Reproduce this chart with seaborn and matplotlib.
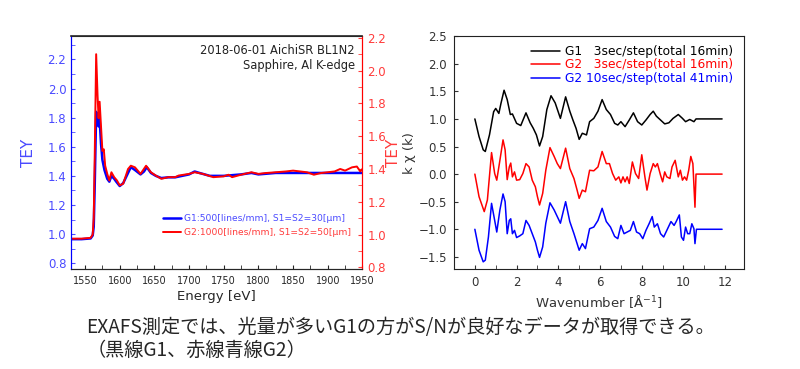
import numpy as np
import pandas as pd
import matplotlib
matplotlib.use('Agg')
import matplotlib.pyplot as plt
import seaborn as sns
from matplotlib.ticker import MultipleLocator

# XANES (left panel) - G1 on left axis, G2 on right axis
e_g1 = [1530, 1545, 1558, 1561, 1562.5, 1564, 1566, 1568, 1569.5, 1571, 1573, 1575, 1578,
        1582, 1585, 1588, 1592, 1595, 1600, 1605, 1612, 1616, 1622, 1630, 1635, 1639,
        1645, 1652, 1660, 1670, 1680, 1690, 1700, 1708, 1715, 1730, 1750, 1775, 1790,
        1800, 1825, 1850, 1875, 1900, 1950]
tey_g1 = [0.965, 0.965, 0.97, 0.99, 1.05, 1.35, 1.84, 1.80, 1.74, 1.79, 1.62, 1.51, 1.44,
          1.38, 1.36, 1.40, 1.38, 1.36, 1.33, 1.35, 1.42, 1.46, 1.44, 1.41, 1.43, 1.46,
          1.42, 1.40, 1.385, 1.39, 1.39, 1.40, 1.41, 1.43, 1.42, 1.40, 1.40, 1.41, 1.42,
          1.41, 1.42, 1.42, 1.42, 1.42, 1.42]

e_g2 = [1530, 1545, 1558, 1561, 1562.5, 1564, 1566, 1568, 1569.5, 1571, 1573, 1575, 1577,
        1579, 1582, 1585, 1588, 1592, 1596, 1600, 1605, 1612, 1616, 1622, 1630, 1638,
        1645, 1652, 1660, 1670, 1680, 1685, 1700, 1708, 1720, 1735, 1750, 1757, 1762,
        1775, 1790, 1800, 1810, 1825, 1840, 1850, 1860, 1870, 1880, 1890, 1900, 1910,
        1918, 1925, 1935, 1942, 1947, 1950]
tey_g2 = [0.975, 0.975, 0.98, 1.00, 1.10, 1.50, 2.10, 1.85, 1.71, 1.81, 1.66, 1.51, 1.52,
          1.42, 1.37, 1.33, 1.38, 1.35, 1.33, 1.30, 1.31, 1.40, 1.42, 1.41, 1.37, 1.42,
          1.38, 1.36, 1.34, 1.35, 1.35, 1.36, 1.37, 1.38, 1.37, 1.35, 1.355, 1.365, 1.35,
          1.365, 1.38, 1.37, 1.375, 1.38, 1.385, 1.39, 1.385, 1.38, 1.365, 1.375, 1.38, 1.385,
          1.40, 1.39, 1.41, 1.415, 1.385, 1.40]

# EXAFS k*chi(k) (right panel), offset curves
k_g1 = [0, 0.2, 0.4, 0.5, 0.7, 0.9, 1.0, 1.15, 1.25, 1.4, 1.55, 1.7, 1.8, 2.0, 2.2, 2.45,
        2.65, 2.8, 2.95, 3.1, 3.25, 3.45, 3.65, 3.85, 4.1, 4.35, 4.55, 4.7, 4.85, 5.0,
        5.15, 5.35, 5.5, 5.7, 5.9, 6.1, 6.3, 6.5, 6.7, 6.85, 7.0, 7.2, 7.4, 7.6, 7.8,
        8.0, 8.2, 8.4, 8.55, 8.7, 8.9, 9.1, 9.3, 9.5, 9.75, 9.95, 10.1, 10.3, 10.5, 10.6, 11.85]
chi_g1 = [1.0, 0.68, 0.44, 0.41, 0.71, 1.13, 1.19, 1.10, 1.28, 1.52, 1.35, 1.08, 1.09, 0.92,
          0.88, 1.11, 0.93, 0.83, 0.71, 0.51, 0.68, 1.17, 1.42, 1.29, 1.01, 1.40, 1.14, 0.98,
          0.83, 0.63, 0.74, 0.71, 0.95, 1.01, 1.14, 1.35, 1.17, 1.08, 0.92, 0.89, 0.95, 0.86,
          0.98, 1.11, 0.95, 0.89, 0.98, 1.08, 1.14, 1.05, 0.98, 0.91, 0.93, 1.01, 1.08, 1.01,
          0.95, 0.99, 0.95, 1.0, 1.0]

k_g2 = [0, 0.2, 0.45, 0.6, 0.8, 0.95, 1.05, 1.2, 1.35, 1.45, 1.55, 1.65, 1.72, 1.8, 1.9,
        2.0, 2.15, 2.3, 2.45, 2.6, 2.75, 2.9, 3.0, 3.1, 3.25, 3.4, 3.6, 3.8, 3.95, 4.1,
        4.35, 4.55, 4.75, 4.9, 5.0, 5.15, 5.3, 5.5, 5.7, 5.9, 6.1, 6.3, 6.45, 6.6, 6.75,
        6.9, 7.0, 7.1, 7.2, 7.3, 7.4, 7.55, 7.7, 7.85, 8.0, 8.15, 8.25, 8.4, 8.55, 8.65,
        8.75, 8.9, 9.0, 9.1, 9.2, 9.35, 9.45, 9.6, 9.75, 9.85, 9.95, 10.05, 10.15, 10.25,
        10.35, 10.45, 10.55, 10.6, 11.85]
chi_g2 = [0.0, -0.41, -0.68, -0.47, 0.39, 0.01, -0.11, 0.25, 0.62, 0.44, -0.10, 0.13, 0.20,
          -0.05, 0.04, -0.11, -0.10, 0.01, 0.19, 0.13, -0.11, -0.23, -0.41, -0.56, -0.35,
          0.07, 0.48, 0.32, 0.19, 0.10, 0.47, 0.10, -0.08, -0.29, -0.44, -0.29, -0.32, 0.07,
          0.06, 0.13, 0.41, 0.19, 0.19, 0.01, -0.11, -0.05, -0.16, -0.05, -0.14, -0.05,
          -0.17, 0.22, 0.01, -0.08, 0.35, -0.05, -0.29, 0.01, 0.19, 0.13, 0.19, -0.02, -0.14,
          0.04, -0.05, -0.08, 0.13, 0.25, -0.05, 0.07, -0.11, -0.05, -0.11, 0.07, 0.32, 0.19,
          -0.60, 0.0, 0.0]

k_g2b = [0, 0.2, 0.4, 0.5, 0.65, 0.8, 0.95, 1.05, 1.2, 1.35, 1.45, 1.55, 1.65, 1.72, 1.8,
         1.9, 2.0, 2.15, 2.3, 2.45, 2.6, 2.75, 2.9, 3.0, 3.1, 3.25, 3.4, 3.6, 3.8, 3.95,
         4.1, 4.35, 4.55, 4.75, 4.9, 5.0, 5.15, 5.3, 5.5, 5.7, 5.9, 6.1, 6.3, 6.5, 6.7,
         6.85, 7.0, 7.15, 7.3, 7.45, 7.6, 7.75, 7.9, 8.05, 8.2, 8.35, 8.5, 8.6, 8.75, 8.9,
         9.05, 9.2, 9.4, 9.55, 9.65, 9.8, 9.9, 10.0, 10.1, 10.2, 10.3, 10.4, 10.5, 10.55,
         10.62, 11.85]
chi_g2b = [-1.0, -1.38, -1.59, -1.56, -1.14, -0.53, -0.84, -1.05, -0.65, -0.36, -0.50, -1.08,
           -0.84, -0.81, -1.08, -1.02, -1.15, -1.12, -1.08, -0.84, -0.93, -1.08, -1.23, -1.38,
           -1.51, -1.32, -0.89, -0.52, -0.65, -0.77, -0.89, -0.50, -0.86, -1.08, -1.26, -1.38,
           -1.26, -1.35, -0.99, -0.96, -0.84, -0.62, -0.86, -0.96, -1.13, -1.17, -0.93, -1.08,
           -1.05, -1.02, -0.86, -1.05, -1.08, -1.17, -1.02, -0.90, -0.77, -0.96, -0.90, -1.08,
           -1.14, -1.02, -0.86, -0.93, -0.86, -0.74, -1.14, -1.20, -0.96, -1.08, -1.08, -0.90,
           -0.99, -1.26, -1.0, -1.0]

legend_xanes = ['G1:500[lines/mm], S1=S2=30[μm]', 'G2:1000[lines/mm], S1=S2=50[μm]']
legend_exafs = ['G1   3sec/step(total 16min)', 'G2   3sec/step(total 16min)',
                'G2 10sec/step(total 41min)']
caption = 'EXAFS測定では、光量が多いG1の方がS/Nが良好なデータが取得できる。\n（黒線G1、赤線青線G2）'

sns.set_style('ticks')
plt.rcParams['font.family'] = ['DejaVu Sans', 'Noto Sans CJK JP']
plt.rcParams['xtick.direction'] = 'in'
plt.rcParams['ytick.direction'] = 'in'

BLUE = '#0000ff'
RED = '#ff0000'
LBLUE = '#4a4aff'
LRED = '#ff3b3b'

fig = plt.figure(figsize=(8, 3.69), dpi=100)

# ---- left panel: XANES
ax1 = fig.add_axes([0.089, 0.271, 0.364, 0.631])
ax2 = ax1.twinx()
sns.lineplot(x=e_g1, y=tey_g1, ax=ax1, color=BLUE, lw=1.8, sort=False, estimator=None,
             label=legend_xanes[0], legend=False)
sns.lineplot(x=e_g2, y=tey_g2, ax=ax2, color=RED, lw=1.4, sort=False, estimator=None,
             label=legend_xanes[1], legend=False)
ax1.set_xlim(1530, 1950)
ax1.set_ylim(0.76, 2.36)
ax2.set_ylim(0.79, 2.21)
ax1.xaxis.set_major_locator(MultipleLocator(50))
ax1.xaxis.set_minor_locator(MultipleLocator(25))
for a in (ax1, ax2):
    a.yaxis.set_major_locator(MultipleLocator(0.2))
    a.yaxis.set_minor_locator(MultipleLocator(0.1))
ax1.tick_params(axis='x', which='both', labelsize=7, length=3, top=False, pad=5)
ax1.tick_params(axis='y', which='both', colors=LBLUE, labelsize=8.5, length=3)
ax2.tick_params(axis='y', which='both', colors=LRED, labelsize=8.5, length=3)
ax1.set_xlabel('Energy [eV]', fontsize=9.5, labelpad=3)
ax1.set_ylabel('TEY', color=LBLUE, fontsize=11, labelpad=8)
ax2.set_ylabel('TEY', color=LRED, fontsize=11, labelpad=0)
ax2.spines['left'].set_color(BLUE)
ax2.spines['right'].set_color(RED)
ax1.spines['left'].set_color(BLUE)
ax1.spines['right'].set_color(RED)
ax2.spines['top'].set_linewidth(1.2)
ax1.text(0.975, 0.965, '2018-06-01 AichiSR BL1N2\nSapphire, Al K-edge', transform=ax1.transAxes,
         ha='right', va='top', fontsize=8.3, color='#222222', linespacing=1.15)
h1 = ax1.get_lines()[0]
h2 = ax2.get_lines()[0]
leg = ax2.legend([h1, h2], legend_xanes, loc='lower right', bbox_to_anchor=(0.99, 0.1),
                 frameon=False, fontsize=6.6, handlelength=2.0, handletextpad=0.3,
                 labelspacing=0.6)
for txt, c in zip(leg.get_texts(), (LBLUE, LRED)):
    txt.set_color(c)

# ---- right panel: EXAFS
ax3 = fig.add_axes([0.5675, 0.271, 0.3625, 0.631])
df = pd.concat([
    pd.DataFrame({'k': k_g1, 'chi': chi_g1, 'set': legend_exafs[0]}),
    pd.DataFrame({'k': k_g2, 'chi': chi_g2, 'set': legend_exafs[1]}),
    pd.DataFrame({'k': k_g2b, 'chi': chi_g2b, 'set': legend_exafs[2]}),
])
sns.lineplot(data=df, x='k', y='chi', hue='set', ax=ax3, sort=False, estimator=None,
             palette=['black', RED, BLUE], lw=1.1)
ax3.set_xlim(-1, 12.9)
ax3.set_ylim(-1.72, 2.5)
ax3.xaxis.set_major_locator(MultipleLocator(2))
ax3.xaxis.set_minor_locator(MultipleLocator(1))
ax3.yaxis.set_major_locator(MultipleLocator(0.5))
ax3.yaxis.set_minor_locator(MultipleLocator(0.25))
ax3.tick_params(which='both', labelsize=8.5, length=3, colors='#333333', pad=5)
ax3.tick_params(axis='y', which='minor', length=0)
ax3.set_xlabel('Wavenumber [Å$^{-1}$]', fontsize=9.5, color='#333333', labelpad=3)
ax3.set_ylabel('k χ (k)', fontsize=9.5, color='#333333', labelpad=2)
for s in ax3.spines.values():
    s.set_color('#222222')
leg3 = ax3.legend(loc='upper right', bbox_to_anchor=(1.0, 1.01), frameon=False, fontsize=8.8,
                  handlelength=2.4, handletextpad=0.4, labelspacing=0.05, title=None)
for txt, c in zip(leg3.get_texts(), ('black', RED, BLUE)):
    txt.set_color(c)

fig.text(0.108, 0.142, caption, fontsize=13.8, ha='left', va='top', linespacing=1.15,
         family=['Noto Sans CJK JP', 'DejaVu Sans'])

fig.savefig('out.png', dpi=100)
